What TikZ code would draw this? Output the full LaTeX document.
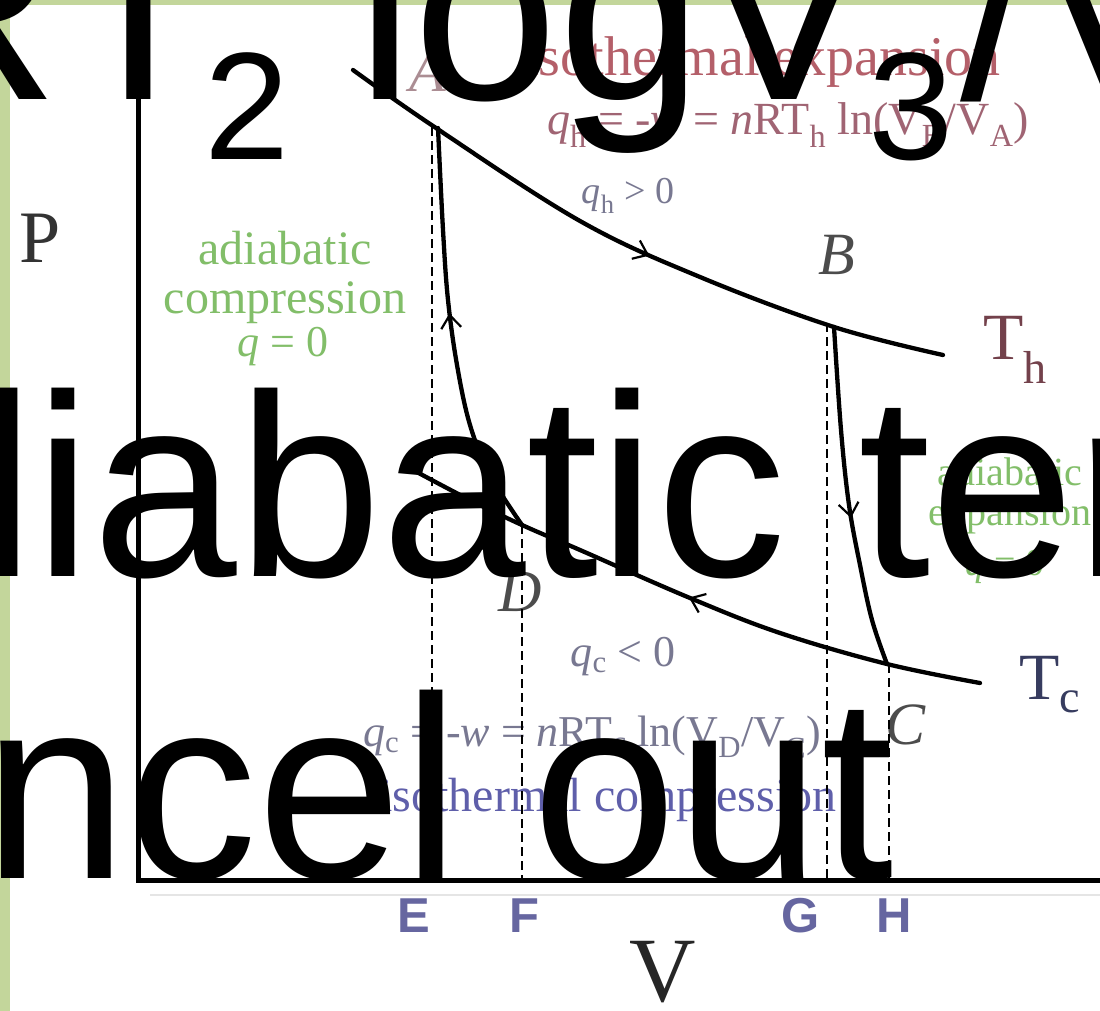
\documentclass[tikz,border=0pt]{standalone}
\usepackage{fontspec}
\setmainfont{Liberation Serif}
\newfontfamily\bigsans{Liberation Sans}
\usetikzlibrary{decorations.markings,arrows.meta}
\definecolor{framegreen}{RGB}{195,214,155}
\definecolor{axlabcol}{RGB}{102,102,160}
\definecolor{redlab}{RGB}{180,95,105}
\definecolor{rosefor}{RGB}{160,100,115}
\definecolor{greenlab}{RGB}{130,190,105}
\definecolor{bluelab}{RGB}{95,95,170}
\definecolor{greyfor}{RGB}{120,120,145}
\definecolor{thcol}{RGB}{115,65,75}
\definecolor{tccol}{RGB}{55,60,95}
\newcommand{\sbs}[1]{\textsubscript{#1}}
\begin{document}
\begin{tikzpicture}[x=1pt,y=-1pt,
  curve/.style={line width=4.3pt,line cap=round,line join=round},
  axisline/.style={line width=5pt},
  guide/.style={line width=1.3pt,dash pattern=on 9pt off 5pt},
  midarrow/.style={postaction={decorate},decoration={markings,
     mark=at position #1 with {\arrow{Straight Barb[length=13pt,width=20pt,line width=2.2pt]}}}},
  big/.style={anchor=base west,inner sep=0pt,font=\bigsans\fontsize{260}{260}\selectfont},
  bigsub/.style={anchor=base west,inner sep=0pt,font=\bigsans\fontsize{153}{153}\selectfont},
  axlab/.style={inner sep=0pt,font=\bigsans\bfseries\fontsize{49}{49}\selectfont,text=axlabcol},
  lbl/.style={inner sep=0pt,align=center,font=\fontsize{#1}{#1}\selectfont}]
\useasboundingbox (0,0) rectangle (1100,1011);
\clip (0,0) rectangle (1100,1011);
% frame
\fill[framegreen] (0,0) rectangle (1100,1011);
\fill[white] (10,5) rectangle (1100,1011);

% named points
\coordinate (A) at (436,128);
\coordinate (B) at (834,327);
\coordinate (C) at (887,664);
\coordinate (D) at (522,525);
\coordinate (Etop) at (432,127);
\coordinate (Ebot) at (432,880);
\coordinate (Ftop) at (522,525);
\coordinate (Fbot) at (522,880);
\coordinate (Gtop) at (827,323);
\coordinate (Gbot) at (827,880);
\coordinate (Htop) at (889,664);
\coordinate (Hbot) at (889,880);
\coordinate (origin) at (138,880);
\coordinate (ytop) at (138,40);
\coordinate (xend) at (1100,880);
\coordinate (shadowL) at (150,895);
\coordinate (shadowR) at (1100,895);

% faint shadow of the axis
\draw[line width=1.5pt,black!10] (shadowL) -- (shadowR);

% labels of the diagram
\node[lbl=60,text=thcol!60] (Alab) at (428,72) {\itshape A};
\node[lbl=56,text=redlab] (isoexp) at (762,62) {isothermal expansion};
\node[lbl=46,text=rosefor] (qhform) at (788,125) {{\itshape q}\sbs{h} = -{\itshape w} = {\itshape n}RT\sbs{h} ln(V\sbs{B}/V\sbs{A})};
\node[lbl=38,text=greyfor] (qhpos) at (628,196) {{\itshape q}\sbs{h} > 0};
\node[lbl=60,text=black!70] (Blab) at (837,255) {\itshape B};
\node[lbl=66,text=thcol] (Th) at (1015,350) {T\sbs{h}};
\node[lbl=48,text=greenlab] (adl1) at (285,248) {adiabatic};
\node[lbl=48,text=greenlab] (adl2) at (285,303) {compression};
\node[lbl=44,text=greenlab] (adl3) at (283,347) {{\itshape q} = 0};
\node[lbl=40,text=greenlab] (adr1) at (1010,472) {adiabatic};
\node[lbl=40,text=greenlab] (adr2) at (1010,517) {expansion};
\node[lbl=38,text=greenlab] (adr3) at (1005,567) {{\itshape q} = 0};
\node[lbl=60,text=black!70] (Dlab) at (520,592) {\itshape D};
\node[lbl=44,text=greyfor] (qcneg) at (623,657) {{\itshape q}\sbs{c} < 0};
\node[lbl=44,text=greyfor] (qcform) at (592,737) {{\itshape q}\sbs{c} = -{\itshape w} = {\itshape n}RT\sbs{c} ln(V\sbs{D}/V\sbs{C})};
\node[lbl=48,text=bluelab] (isocomp) at (608,800) {isothermal compression};
\node[lbl=60,text=black!70] (Clab) at (905,725) {\itshape C};
\node[lbl=66,text=tccol] (Tc) at (1050,685) {T\sbs{c}};
\node[lbl=74,text=black!80] (Plab) at (40,238) {P};
\node[lbl=92,text=black!85] (Vlab) at (663,972) {V};

% axes
\draw[axisline] (ytop) -- (origin) -- (xend);

% guide lines
\draw[guide] (Etop) -- (Ebot);
\draw[guide] (Ftop) -- (Fbot);
\draw[guide] (Gtop) -- (Gbot);
\draw[guide] (Htop) -- (Hbot);

% cycle
\draw[curve,midarrow=0.53] plot[smooth,tension=0.6] coordinates
  {(353,70) (A) (580,221) (700,277) (B) (943,355)};
\draw[curve,midarrow=0.55] plot[smooth,tension=0.6] coordinates
  {(D) (490,475) (470,425) (457,365) (448,300) (443,230) (438,128)};
\draw[curve,midarrow=0.56] plot[smooth,tension=0.6] coordinates
  {(B) (841,430) (849,505) (860,565) (872,620) (C)};
\draw[curve,midarrow=0.5] plot[smooth,tension=0.6] coordinates
  {(980,683) (C) (780,633) (690,598) (580,550) (D) (470,500) (413,470)};

% axis letters
\node[axlab] (Elab) at (414,916) {E};
\node[axlab] (Flab) at (524,916) {F};
\node[axlab] (Glab) at (801,916) {G};
\node[axlab] (Hlab) at (894,916) {H};

% overlaid large text
\node[big] (tR) at (-129,100) {R};
\node[big] (tT) at (59,100) {T};
\node[bigsub] (t2) at (204,160) {2};
\node[big] (tlog) at (356,100) {log};
\node[big] (tV) at (697,100) {V};
\node[bigsub] (t3) at (868,160) {3};
\node[big] (tslash) at (960,100) {/V};
\node[big] (line2) at (-23,576) {liabatic ter};
\node[big] (line3) at (-17,878) {ncel out};
\end{tikzpicture}
\end{document}
